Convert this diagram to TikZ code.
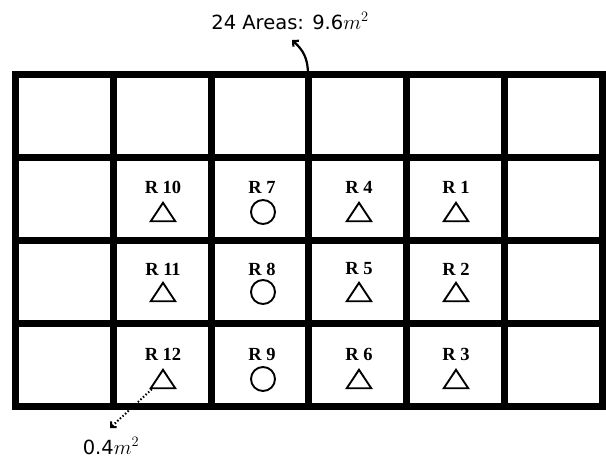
\documentclass[tikz,border=0pt]{standalone}
\usepackage{fontspec}
\usetikzlibrary{arrows.meta}
\newfontfamily\labfont{Liberation Serif}
\newfontfamily\topfont{DejaVu Sans}
\begin{document}
\begin{tikzpicture}[x=1pt,y=-1pt,
  gridline/.style={line width=7pt},
  rlabel/.style={font=\labfont\bfseries\fontsize{18.5}{18.5}\selectfont, inner sep=0pt},
  tri/.style={rectangle, minimum width=24pt, minimum height=18pt, inner sep=0pt},
  triline/.style={draw, line width=1.9pt, line join=miter},
  circ/.style={draw, line width=1.9pt, circle, minimum size=24pt, inner sep=0pt},
  note/.style={font=\topfont\fontsize{19.5}{19.5}\selectfont, inner sep=0pt}]
\useasboundingbox (0,0) rectangle (606,458);
% grid
\foreach \x in {113.3,211.1,308.9,406.7,504.5}
  \draw[gridline] (\x,74.5) -- (\x,406.5);
\foreach \y in {157.5,240.5,323.5}
  \draw[gridline] (15.5,\y) -- (602.3,\y);
\draw[gridline] (15.5,74.5) rectangle (602.3,406.5);
% labels and markers
\node[rlabel] (l10) at (163,187) {R 10};
\node[rlabel] (l11) at (163,269) {R 11};
\node[rlabel] (l12) at (163,354) {R 12};
\node[rlabel] (l7) at (262,187) {R 7};
\node[rlabel] (l8) at (262,269) {R 8};
\node[rlabel] (l9) at (262,354) {R 9};
\node[rlabel] (l4) at (359,187) {R 4};
\node[rlabel] (l5) at (359,269) {R 5};
\node[rlabel] (l6) at (359,354) {R 6};
\node[rlabel] (l1) at (456,187) {R 1};
\node[rlabel] (l2) at (456,269) {R 2};
\node[rlabel] (l3) at (456,354) {R 3};
\node[tri] (t10) at (163,212) {};
\node[tri] (t11) at (163,292) {};
\node[tri] (t12) at (163,379) {};
\node[circ] (c7) at (263,212) {};
\node[circ] (c8) at (263,292) {};
\node[circ] (c9) at (263,379) {};
\node[tri] (t4) at (359,212) {};
\node[tri] (t5) at (359,292) {};
\node[tri] (t6) at (359,379) {};
\node[tri] (t1) at (456,212) {};
\node[tri] (t2) at (456,292) {};
\node[tri] (t3) at (456,379) {};
\foreach \n in {t10,t11,t12,t4,t5,t6,t1,t2,t3}
  \draw[triline] (\n.south west) -- (\n.north) -- (\n.south east) -- cycle;
% annotations
\node[note] (top) at (290,21) {24 Areas: 9.6$m^2$};
\node[note] (bot) at (111,446) {0.4$m^2$};
\coordinate (topstart) at (308,74.5);
\coordinate (toptip) at (292,40);
\coordinate (bottip) at (110,428);
\draw[line width=2.2pt, -{Straight Barb[length=4pt]}] (topstart) .. controls (308,58) and (303,50) .. (toptip);
\draw[line width=2pt, dash pattern=on 1.5pt off 2pt, -{Straight Barb[length=4pt]}] ([shift={(1pt,-1pt)}]t12.south west) -- (bottip);
\end{tikzpicture}
\end{document}
